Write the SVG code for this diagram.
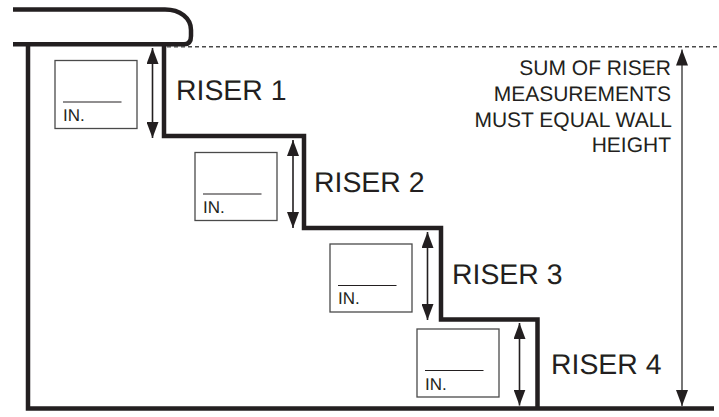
<svg xmlns="http://www.w3.org/2000/svg" width="719" height="417" viewBox="0 0 719 417">
<defs>
<marker id="a" markerUnits="userSpaceOnUse" markerWidth="16" markerHeight="12" refX="16" refY="6" viewBox="0 0 16 12" orient="auto-start-reverse"><path d="M0 0 L16 6 L0 12Z" fill="#231f20"/></marker>
</defs>
<style>
.t{font-family:"Liberation Sans",Arial,sans-serif;fill:#231f20;text-rendering:geometricPrecision}
.r{font-size:28.4px}
.s{font-size:21px}
.i{font-size:17px}
.b{fill:#fff;stroke:#4a4a4a;stroke-width:1.3}
.u{stroke:#231f20;stroke-width:1.2;fill:none}
.w{stroke:#231f20;stroke-width:4.5;fill:none}
.d{stroke:#231f20;stroke-width:1.6;fill:none}
</style>
<g id="connectors">
<path d="M13 9.500 H165 C180 9.500 191 18 191 30 V36 Q191 44.300 184 44.300 H13" class="w"/>
<path d="M28 44 V408.500 H714" class="w"/>
<path d="M164 44 V136 H304 V228 H441 V319.500 H537.500 V408" class="w"/>
<path d="M167 46.700 H719" stroke="#4a4a4a" stroke-width="1.5" stroke-dasharray="4 3" fill="none"/>
<path d="M152.500 48 V138" class="d" marker-start="url(#a)" marker-end="url(#a)"/>
<path d="M293 140 V228" class="d" marker-start="url(#a)" marker-end="url(#a)"/>
<path d="M427.500 232 V320" class="d" marker-start="url(#a)" marker-end="url(#a)"/>
<path d="M519.500 323 V405.500" class="d" marker-start="url(#a)" marker-end="url(#a)"/>
<path d="M682 49.500 V406" stroke="#555" stroke-width="1.6" fill="none" marker-start="url(#a)" marker-end="url(#a)"/>
</g>
<g id="riser-1">
<rect class="b" x="55" y="60.500" width="82" height="68"/>
<path class="u" d="M63 102 H121.500"/>
<text class="t i" x="63" y="120.700">IN.</text>
<text class="t r" x="176" y="100">RISER 1</text>
</g>
<g id="riser-2">
<rect class="b" x="195" y="152.500" width="82" height="68"/>
<path class="u" d="M203 194 H261.500"/>
<text class="t i" x="203" y="213">IN.</text>
<text class="t r" x="314" y="192">RISER 2</text>
</g>
<g id="riser-3">
<rect class="b" x="330" y="244" width="82" height="68"/>
<path class="u" d="M338 285.500 H396.500"/>
<text class="t i" x="338" y="304">IN.</text>
<text class="t r" x="452" y="284">RISER 3</text>
</g>
<g id="riser-4">
<rect class="b" x="417" y="329" width="82" height="68"/>
<path class="u" d="M425 370.500 H483.500"/>
<text class="t i" x="425" y="389.500">IN.</text>
<text class="t r" x="551" y="374">RISER 4</text>
</g>
<g id="note">
<text class="t s" text-anchor="end" x="671" y="75">SUM OF RISER</text>
<text class="t s" text-anchor="end" x="671" y="100.500">MEASUREMENTS</text>
<text class="t s" text-anchor="end" x="672" y="126.500">MUST EQUAL WALL</text>
<text class="t s" text-anchor="end" x="671" y="151.500">HEIGHT</text>
</g>
</svg>
